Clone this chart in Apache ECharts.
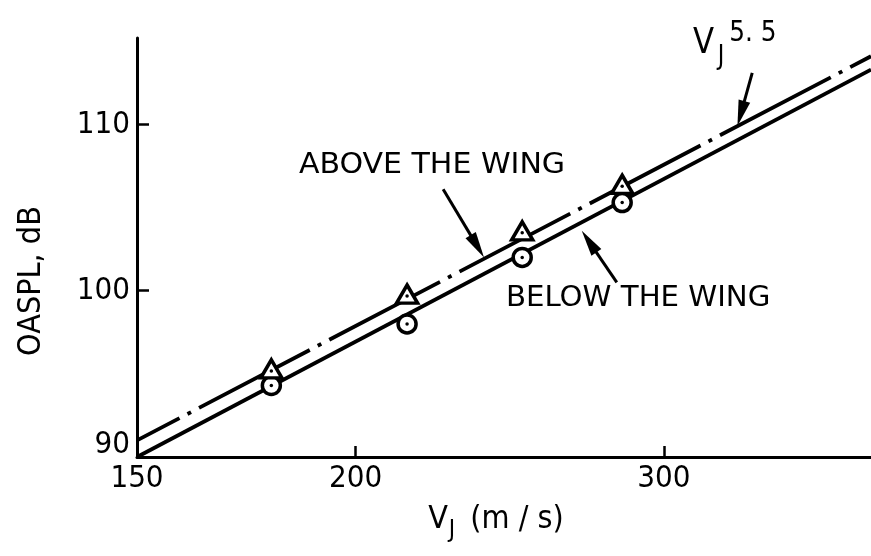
<!DOCTYPE html>
<html>
<head>
<meta charset="utf-8">
<script src="https://cdn.jsdelivr.net/npm/echarts@6/dist/echarts.min.js"></script>
<style>
html, body { margin: 0; background: #fff; }
#chart { width: 871px; height: 556px; }
</style>
</head>
<body>
<div id="chart"></div>
<script>
// measured points (jet velocity m/s, OASPL dB)
const speeds = [179, 214, 249, 284];
const aboveLevels = [95.3, 99.8, 103.6, 106.4];
const belowLevels = [94.3, 98.0, 102.0, 105.3];

// fitted lines, read at both ends of the axis
const lineSpeeds = [150, 394];
const aboveFit = [91.0, 114.1];
const belowFit = [90.0, 113.3];

const xTickLabels = [150, 200, 300];
const yTickLabels = [90, 100, 110];

// annotation arrows: [from, to] in data coords
const arrows = [
    [[224.4, 106.1], [236.8, 102.0]],
    [[282, 100.5], [269.3, 103.6]],
    [[337, 113.1], [330.5, 109.9]]
];

const FONT = '"DejaVu Sans Condensed", "Liberation Sans Narrow", "DejaVu Sans", sans-serif';

const chart = echarts.init(document.getElementById("chart"));

const pairs = (xs, ys) => xs.map((x, i) => [x, ys[i]]);

const option = {
    animation: false,
    grid: { left: 137, right: 0, top: 38, bottom: 99 },
    xAxis: {
        type: "log",
        logBase: 10,
        min: 150,
        max: 394,
        axisLine: { lineStyle: { color: "#000", width: 3 } },
        axisTick: { inside: true, length: 11, lineStyle: { color: "#000", width: 2.5 }, customValues: [200, 300] },
        axisLabel: {
            customValues: xTickLabels,
            margin: 6,
            color: "#000",
            fontFamily: FONT,
            fontSize: 31,
            formatter: v => String(Math.round(v))
        },
        splitLine: { show: false },
        minorTick: { show: false }
    },
    yAxis: {
        type: "value",
        min: 90,
        max: 115.2,
        axisLine: { lineStyle: { color: "#000", width: 3 } },
        axisTick: { inside: true, length: 12, lineStyle: { color: "#000", width: 2.5 }, customValues: [100, 110] },
        axisLabel: {
            customValues: yTickLabels,
            margin: 7,
            color: "#000",
            fontFamily: FONT,
            fontSize: 31,
            formatter: v => (v === 90 ? "{low|90}" : String(v)),
            rich: {
                low: { fontFamily: FONT, fontSize: 31, color: "#000", padding: [0, 0, 24, 0] }
            }
        },
        splitLine: { show: false }
    },
    series: [
        {
            name: "above fit",
            type: "line",
            data: pairs(lineSpeeds, aboveFit),
            symbol: "none",
            lineStyle: { color: "#000", width: 3.8, type: [125, 9, 4, 9], dashOffset: 77 },
            z: 2
        },
        {
            name: "below fit",
            type: "line",
            data: pairs(lineSpeeds, belowFit),
            symbol: "none",
            lineStyle: { color: "#000", width: 3.8 },
            z: 2
        },
        {
            name: "below",
            type: "scatter",
            data: pairs(speeds, belowLevels),
            symbol: "circle",
            symbolSize: 18,
            itemStyle: { color: "#fff", borderColor: "#000", borderWidth: 3.5, opacity: 1 },
            z: 3
        },
        {
            name: "above",
            type: "scatter",
            data: pairs(speeds, aboveLevels),
            symbol: "triangle",
            symbolSize: [21, 18],
            itemStyle: { color: "#fff", borderColor: "#000", borderWidth: 3.5, opacity: 1 },
            z: 4
        },
        {
            name: "below dots",
            type: "scatter",
            data: pairs(speeds, belowLevels),
            symbol: "circle",
            symbolSize: 3.5,
            itemStyle: { color: "#000", opacity: 1 },
            z: 5
        },
        {
            name: "above dots",
            type: "scatter",
            data: pairs(speeds, aboveLevels),
            symbol: "circle",
            symbolSize: 3.5,
            symbolOffset: [0, 2],
            itemStyle: { color: "#000", opacity: 1 },
            z: 5
        }
    ]
};

chart.setOption(option);

// arrows and text labels drawn on top
const graphics = [];
arrows.forEach(([from, to]) => {
    const p0 = chart.convertToPixel({ gridIndex: 0 }, from);
    const p1 = chart.convertToPixel({ gridIndex: 0 }, to);
    const dx = p1[0] - p0[0];
    const dy = p1[1] - p0[1];
    const len = Math.sqrt(dx * dx + dy * dy);
    const ux = dx / len, uy = dy / len;
    const headLen = 26, headW = 6;
    const bx = p1[0] - ux * headLen, by = p1[1] - uy * headLen;
    graphics.push({
        type: "line",
        shape: { x1: p0[0], y1: p0[1], x2: bx + ux * 4, y2: by + uy * 4 },
        style: { stroke: "#000", lineWidth: 3 },
        z: 10
    });
    graphics.push({
        type: "polygon",
        shape: { points: [[p1[0], p1[1]], [bx - uy * headW, by + ux * headW], [bx + uy * headW, by - ux * headW]] },
        style: { fill: "#000" },
        z: 10
    });
});

const label = (text, x, y, opts) => Object.assign({
    type: "text",
    x: x,
    y: y,
    style: Object.assign({ text: text, fontFamily: FONT, fontSize: 29, fill: "#000" }, opts.style || {}),
    z: 10
}, opts.el || {});

graphics.push(label("ABOVE THE WING", 299, 151, { el: { scaleX: 1.15 } }));
graphics.push(label("BELOW THE WING", 506, 284, { el: { scaleX: 1.12 } }));
graphics.push(label("V{sub|J}{sup|5. 5}", 693, 18, {
    el: { scaleX: 0.95 },
    style: {
        fontSize: 36,
        rich: {
            sub: { fontFamily: FONT, fontSize: 26, fill: "#000", padding: [26, 0, 0, 4] },
            sup: { fontFamily: FONT, fontSize: 29, fill: "#000", padding: [0, 0, 22, 5] }
        }
    }
}));
// axis names
graphics.push(label("OASPL, dB", 32, 281, {
    el: { rotation: Math.PI / 2 },
    style: { fontSize: 32, align: "center", verticalAlign: "middle" }
}));
graphics.push(label("V{sub|J} (m / s)", 496, 520, {
    style: {
        fontSize: 32,
        align: "center",
        verticalAlign: "middle",
        rich: {
            sub: { fontFamily: FONT, fontSize: 24, fill: "#000", padding: [22, 6, 0, 1] }
        }
    }
}));

chart.setOption({ graphic: graphics });
</script>
</body>
</html>
